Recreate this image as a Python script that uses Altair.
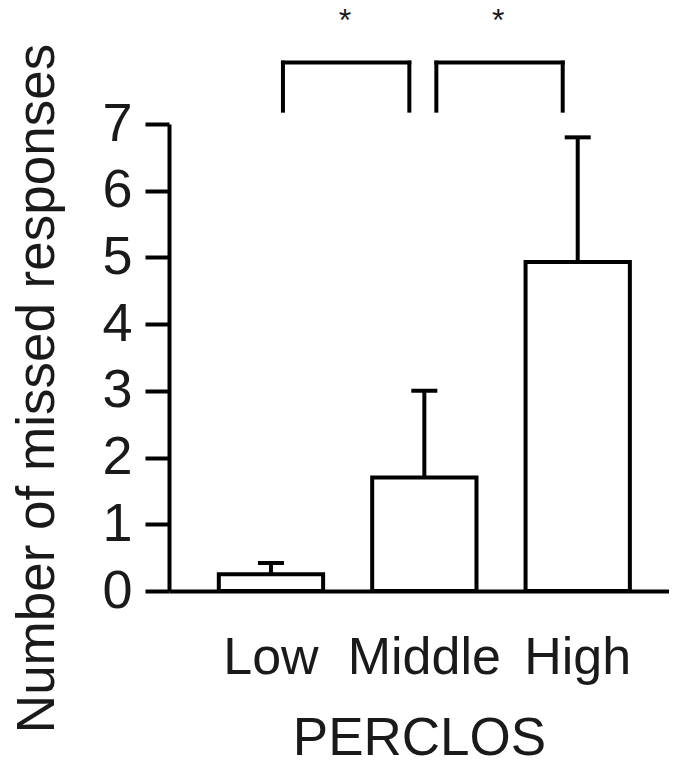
import altair as alt
import pandas as pd

# ---- data ----
categories = ["Low", "Middle", "High"]
means = [0.25, 1.7, 4.93]
upper = [0.42, 3.0, 6.8]          # mean + error (upper whisker only)
y_ticks = [0, 1, 2, 3, 4, 5, 6, 7]

bracket_left = ["Low", "Middle"]
bracket_right = ["Middle", "High"]
bracket_bottom = [7.2, 7.2]
bracket_top = [7.92, 7.92]
star_text = ["*", "*"]
star_y = [8.55, 8.55]

FONT = "Liberation Sans"
INK = "#1a1a1a"

bars_df = pd.DataFrame({"cat": categories, "mean": means, "upper": upper})
br_df = pd.DataFrame({"left": bracket_left, "right": bracket_right,
                      "bottom": bracket_bottom, "top": bracket_top,
                      "star": star_text, "sy": star_y})

xscale = alt.Scale(domain=categories, paddingInner=0.32, paddingOuter=0.29, align=0.56)
yscale = alt.Scale(domain=[0, 7], nice=False, zero=True)

x_enc = alt.X("cat:N", scale=xscale, sort=categories,
              axis=alt.Axis(title="PERCLOS", labelAngle=0, labelFontSize=52,
                            labelFont=FONT, labelColor=INK, ticks=False, tickSize=0,
                            labelPadding=82, labelBaseline="alphabetic",
                            titleFontSize=53, titleFont=FONT, titleFontWeight="normal",
                            titleColor=INK, titleBaseline="alphabetic", titleY=163,
                            domainColor="black", domainWidth=4))
y_enc = alt.Y("mean:Q", scale=yscale,
              axis=alt.Axis(values=y_ticks, format="d", title="Number of missed responses",
                            titleFontSize=53, titleFont=FONT, titleFontWeight="normal",
                            titleColor=INK, titleAngle=270, titleBaseline="alphabetic",
                            titleAlign="center", titleX=-116, titleY=264,
                            labelFontSize=54, labelFont=FONT, labelColor=INK,
                            labelPadding=13, tickSize=24, tickWidth=4, tickColor="black",
                            domainWidth=4, domainColor="black", grid=False))

bars = alt.Chart(bars_df).mark_bar(fill="white", stroke="black", strokeWidth=4).encode(
    x=x_enc, y=y_enc)

err = alt.Chart(bars_df).mark_rule(color="black", strokeWidth=4).encode(
    x=alt.X("cat:N", scale=xscale, sort=categories),
    y=alt.Y("mean:Q", scale=yscale), y2="upper:Q")

caps = alt.Chart(bars_df).mark_tick(color="black", size=26, thickness=4, opacity=1).encode(
    x=alt.X("cat:N", scale=xscale, sort=categories),
    y=alt.Y("upper:Q", scale=yscale))

leg_left = alt.Chart(br_df).mark_rule(color="black", strokeWidth=4, xOffset=12,
                                      strokeCap="square").encode(
    x=alt.X("left:N", scale=xscale, sort=categories),
    y=alt.Y("bottom:Q", scale=yscale), y2="top:Q")

leg_right = alt.Chart(br_df).mark_rule(color="black", strokeWidth=4, xOffset=-15,
                                       strokeCap="square").encode(
    x=alt.X("right:N", scale=xscale, sort=categories),
    y=alt.Y("bottom:Q", scale=yscale), y2="top:Q")

bar_top = alt.Chart(br_df).mark_rule(color="black", strokeWidth=4, xOffset=12,
                                     x2Offset=-15, strokeCap="square").encode(
    x=alt.X("left:N", scale=xscale, sort=categories), x2="right:N",
    y=alt.Y("top:Q", scale=yscale))

stars = alt.Chart(br_df).mark_text(font=FONT, fontSize=32, color=INK, dx=74,
                                   baseline="middle", align="center").encode(
    x=alt.X("left:N", scale=xscale, sort=categories),
    y=alt.Y("sy:Q", scale=yscale), text="star:N")

chart = alt.layer(bars, err, caps, leg_left, leg_right, bar_top, stars).properties(
    width=500, height=467,
    autosize=alt.AutoSizeParams(type="none"),
    padding={"left": 161, "top": 116, "right": 0, "bottom": 170},
    background="white",
).configure_view(stroke=None)

chart.save("out.html", embed_options={"renderer": "svg", "actions": False})
